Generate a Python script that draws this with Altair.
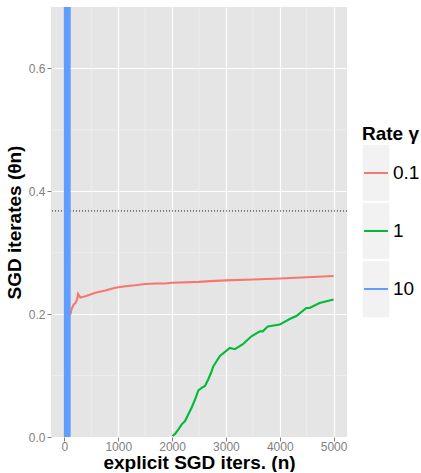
import altair as alt
import pandas as pd

# ---- data ----
rates = ["0.1", "1", "10"]
colors = ["#F8766D", "#00BA38", "#619CFF"]

red_x = [111, 130, 173, 204, 235, 253, 296, 389, 574, 759, 944, 1130, 1315, 1500, 1685,
         1870, 2000, 2500, 2700, 3000, 3500, 4000, 4500, 5000]
red_y = [0.1995, 0.208, 0.216, 0.218, 0.224, 0.233, 0.227, 0.229, 0.235, 0.2385, 0.243,
         0.2455, 0.247, 0.249, 0.250, 0.250, 0.251, 0.2525, 0.2537, 0.255, 0.2565, 0.258,
         0.260, 0.262]

green_x = [2006, 2056, 2117, 2179, 2241, 2302, 2364, 2426, 2488, 2549, 2611, 2673, 2735,
           2765, 2889, 3074, 3167, 3315, 3475, 3630, 3685, 3778, 4000, 4185, 4309, 4494,
           4555, 4740, 5000]
green_y = [0.0016, 0.005, 0.0125, 0.0206, 0.026, 0.037, 0.048, 0.061, 0.076, 0.080, 0.083,
           0.094, 0.107, 0.115, 0.132, 0.145, 0.143, 0.151, 0.164, 0.172, 0.172, 0.180,
           0.183, 0.192, 0.197, 0.210, 0.210, 0.218, 0.224]

blue_x = [5, 12, 20, 28, 36, 44, 52, 60, 68, 76, 84, 92, 100]
blue_y = [3.0, -3.0, 3.0, -3.0, 3.0, -3.0, 3.0, -3.0, 3.0, -3.0, 3.0, -3.0, 3.0]

ref_line = [0.368]
x_ticks = [0, 1000, 2000, 3000, 4000, 5000]
x_minor = [500, 1500, 2500, 3500, 4500]
y_ticks = [0.0, 0.2, 0.4, 0.6]
y_minor = [0.1, 0.3, 0.5]

# ---- tables ----
series = pd.concat([
    pd.DataFrame({"n": red_x, "theta": red_y, "rate": "0.1"}),
    pd.DataFrame({"n": green_x, "theta": green_y, "rate": "1"}),
    pd.DataFrame({"n": blue_x, "theta": blue_y, "rate": "10"}),
], ignore_index=True)

FONT = "Liberation Sans"
GREY_TXT = "#7F7F7F"

xs = alt.Scale(domain=[-250, 5250], nice=False, zero=False)
ys = alt.Scale(domain=[0, 0.7], nice=False, zero=False)
cs = alt.Scale(domain=rates, range=colors)

xaxis = alt.Axis(values=x_ticks, format="d", grid=True, gridColor="white", gridWidth=1.2,
                 domain=False, tickColor=GREY_TXT, tickSize=4, labelColor=GREY_TXT,
                 labelFontSize=12, labelFont=FONT, labelPadding=0,
                 title="explicit SGD iters. (n)", titleFont=FONT, titleFontSize=19,
                 titleFontWeight="bold", titleColor="black", titlePadding=1)
yaxis = alt.Axis(values=y_ticks, format=".1f", grid=True, gridColor="white", gridWidth=1.2,
                 domain=False, tickColor=GREY_TXT, tickSize=4, labelColor=GREY_TXT,
                 labelFontSize=12, labelFont=FONT, labelPadding=2,
                 title="SGD iterates (θn)", titleFont=FONT, titleFontSize=19,
                 titleFontWeight="bold", titleColor="black", titlePadding=4)

minor_x = alt.Chart(pd.DataFrame({"v": x_minor})).mark_rule(
    color="#F2F2F2", strokeWidth=0.6).encode(x=alt.X("v:Q", scale=xs, axis=xaxis))
minor_y = alt.Chart(pd.DataFrame({"v": y_minor})).mark_rule(
    color="#F2F2F2", strokeWidth=0.6).encode(y=alt.Y("v:Q", scale=ys, axis=yaxis))

hline = alt.Chart(pd.DataFrame({"v": ref_line})).mark_rule(
    color="black", strokeDash=[1, 2], strokeWidth=0.9).encode(y=alt.Y("v:Q", scale=ys))

lines = alt.Chart(series).mark_line(strokeWidth=2.1, clip=True).encode(
    x=alt.X("n:Q", scale=xs),
    y=alt.Y("theta:Q", scale=ys),
    color=alt.Color("rate:N", scale=cs, legend=None),
    order=alt.Order("n:Q"),
)

main = alt.layer(minor_x, minor_y, hline, lines).properties(
    width=296, height=430,
    view=alt.ViewBackground(fill="#E5E5E5", stroke=None),
)

# ---- hand-made ggplot-style legend, driven by the rates list ----
leg_df = pd.DataFrame({"rate": rates})
ly = alt.Scale(domain=rates, range=[137, 311], paddingInner=0, paddingOuter=0)

keys = alt.Chart(leg_df).mark_rect(fill="#F2F2F2", stroke="white", strokeWidth=1.5).encode(
    x=alt.value(0), x2=alt.value(28),
    y=alt.Y("rate:N", scale=ly, axis=None),
)
key_lines = alt.Chart(leg_df).mark_rule(strokeWidth=2).encode(
    x=alt.value(2), x2=alt.value(26),
    y=alt.Y("rate:N", scale=ly, axis=None, bandPosition=0.5),
    color=alt.Color("rate:N", scale=cs, legend=None),
)
labels = alt.Chart(leg_df).mark_text(align="left", baseline="middle", font=FONT,
                                     fontSize=19, color="black").encode(
    x=alt.value(31),
    y=alt.Y("rate:N", scale=ly, axis=None, bandPosition=0.5),
    text="rate:N",
)
leg_title = alt.Chart(pd.DataFrame({"t": ["Rate γ"]})).mark_text(
    align="left", baseline="alphabetic", font=FONT, fontSize=19, fontWeight="bold",
    color="black").encode(x=alt.value(0), y=alt.value(133), text="t:N")

legend = alt.layer(keys, key_lines, labels, leg_title).properties(
    width=28, height=430,
    view=alt.ViewBackground(fill="white", stroke=None),
)

chart = alt.hconcat(main, legend, spacing=13).resolve_scale(
    x="independent", y="independent", color="shared"
).properties(
    padding={"left": 5, "top": 6, "right": 0, "bottom": 0}
).configure(background="white")

chart.save("out.html", embed_options={"renderer": "svg", "actions": False})
